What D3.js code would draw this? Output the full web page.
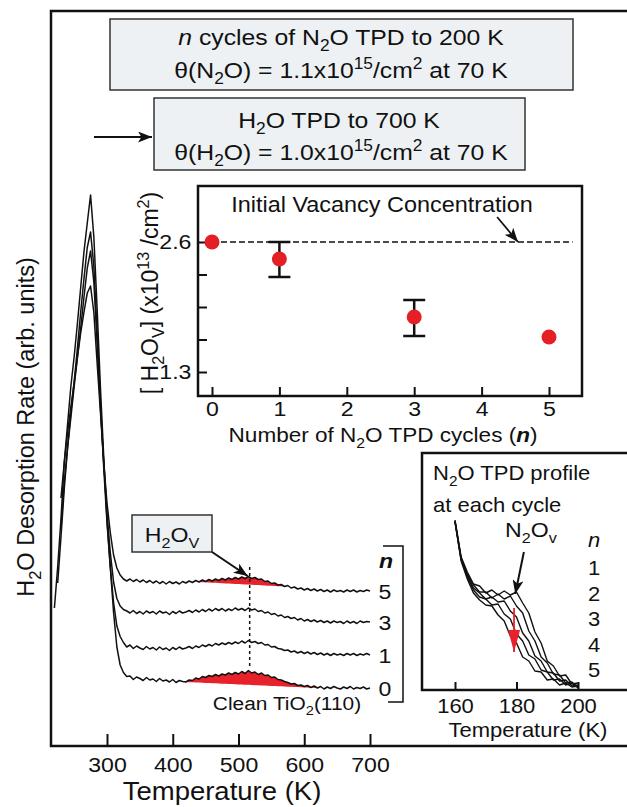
<!DOCTYPE html>
<html>
<head>
<meta charset="utf-8">
<script src="https://cdn.jsdelivr.net/npm/d3@7/dist/d3.min.js"></script>
<style>
  body { margin: 0; background: #fff; }
  text { font-family: "Liberation Sans", Arial, Helvetica, sans-serif; fill: #111; }
</style>
</head>
<body>
<svg id="chart" width="627" height="807"></svg>
<script>
// ---- main panel: H2O TPD traces after n cycles of N2O TPD ----
const tempK = d3.range(220, 701, 5); // sampling grid of the traces (K)

// desorption rate (arb. units), traces already stacked as in the figure
const rateN0 = [
  16.0, 24.2, 33.8, 45.1, 52.7, 60.3, 66.2, 72.9, 80.1, 87.3,
  93.0, 98.6, 90.2, 75.8, 60.1, 46.3, 33.7, 24.2, 15.1, 8.2,
  4.6, 3.1, 2.3, 2.4, 1.7, 2.2, 1.9, 1.5, 2.1, 1.6,
  1.8, 1.3, 1.9, 1.4, 1.6, 1.2, 1.7, 1.1, 1.5, 1.3,
  1.2, 1.6, 1.5, 2.0, 1.8, 2.3, 2.1, 2.5, 2.3, 2.7,
  2.4, 2.8, 2.6, 3.0, 2.7, 3.1, 2.8, 3.3, 2.9, 3.5,
  3.0, 3.2, 2.7, 3.0, 2.5, 2.6, 2.1, 2.2, 1.7, 1.6,
  1.3, 1.1, 0.8, 0.9, 0.5, 0.6, 0.3, 0.5, 0.1, 0.4,
  0.0, 0.3, -0.2, 0.2, -0.1, 0.3, 0.0, -0.2, 0.2, -0.1,
  0.3, -0.2, 0.1, -0.1, 0.2, -0.2, 0.0];
const rateN1 = [
  null, 21.0, 30.2, 39.8, 47.9, 55.1, 61.2, 68.0, 75.2, 81.9,
  88.1, 91.2, 84.3, 71.0, 57.2, 44.1, 33.0, 24.2, 17.1, 12.4,
  10.3, 9.1, 8.2, 8.6, 7.9, 8.4, 8.0, 7.7, 8.3, 7.8,
  8.1, 7.6, 8.2, 7.7, 8.0, 7.5, 8.1, 7.7, 8.2, 7.8,
  8.0, 8.3, 7.9, 8.4, 8.1, 8.6, 8.3, 8.7, 8.4, 8.9,
  8.6, 9.0, 8.7, 9.1, 8.8, 9.2, 8.9, 9.4, 9.0, 9.5,
  9.1, 9.3, 8.9, 9.1, 8.6, 8.7, 8.2, 8.3, 7.9, 7.8,
  7.5, 7.6, 7.2, 7.4, 7.0, 7.3, 6.9, 7.2, 6.8, 7.1,
  6.7, 7.0, 6.6, 6.9, 6.5, 6.9, 6.6, 6.8, 6.5, 6.9,
  6.6, 6.9, 6.5, 6.8, 6.6, 6.9, 6.6];
const rateN3 = [
  null, null, 32.0, 41.2, 48.1, 54.0, 60.2, 66.1, 72.0, 78.2,
  84.0, 87.4, 81.2, 69.0, 56.1, 45.2, 35.0, 27.1, 21.2, 17.9,
  16.4, 15.7, 15.4, 15.0, 15.5, 14.9, 15.3, 14.8, 15.4, 15.0,
  15.3, 14.8, 15.4, 15.0, 15.2, 14.7, 15.3, 14.9, 15.4, 15.0,
  15.2, 15.5, 15.1, 15.6, 15.2, 15.7, 15.3, 15.8, 15.4, 15.9,
  15.5, 15.9, 15.4, 15.8, 15.5, 16.0, 15.6, 15.9, 15.5, 16.0,
  15.6, 15.8, 15.3, 15.5, 15.0, 15.2, 14.7, 14.9, 14.4, 14.6,
  14.1, 14.3, 13.9, 14.1, 13.6, 13.9, 13.4, 13.7, 13.3, 13.6,
  13.2, 13.5, 13.1, 13.4, 13.0, 13.4, 13.1, 13.3, 12.9, 13.4,
  13.0, 13.3, 12.9, 13.4, 13.1, 13.3, 13.2];
const rateN5 = [
  null, null, 38.0, 45.1, 51.0, 56.2, 61.0, 66.1, 71.0, 75.2,
  79.0, 80.4, 75.1, 65.0, 55.2, 45.1, 37.0, 31.1, 26.6, 24.0,
  22.6, 21.8, 21.4, 21.8, 21.3, 21.7, 21.2, 21.6, 21.1, 21.5,
  21.0, 21.4, 20.9, 21.3, 20.8, 21.3, 20.9, 21.2, 20.8, 21.3,
  21.0, 21.4, 21.1, 21.5, 21.2, 21.6, 21.3, 21.7, 21.4, 21.8,
  21.5, 21.9, 21.6, 22.0, 21.7, 22.1, 21.8, 22.2, 21.9, 22.3,
  21.9, 22.1, 21.7, 21.8, 21.3, 21.4, 20.9, 21.0, 20.6, 20.7,
  20.3, 20.5, 20.0, 20.2, 19.8, 20.0, 19.6, 19.9, 19.5, 19.8,
  19.4, 19.7, 19.3, 19.6, 19.2, 19.6, 19.3, 19.5, 19.2, 19.6,
  19.3, 19.6, 19.2, 19.5, 19.3, 19.6, 19.4];
const traceCycles = [0, 1, 3, 5];
const mainTicks = [300, 400, 500, 600, 700];

// red shaded H2O_V feature (K)
const shadeCycle = [0, 5];
const shadeFrom = [420, 440];
const shadeTo = [620, 570];
const vacancyPeakT = 517;

// ---- inset 1: [H2O_V] vs number of N2O TPD cycles ----
const cycleN = [0, 1, 3, 5];
const vacancyConc = [2.6, 2.43, 1.85, 1.65];   // x10^13 /cm^2
const errLow = [null, 2.25, 1.66, null];
const errHigh = [null, 2.6, 2.02, null];
const initialConc = 2.6;
const cycleTicks = [0, 1, 2, 3, 4, 5];
const concTicks = [1.3, 1.625, 1.95, 2.275, 2.6];
const concLabels = [1.3, 2.6];

// ---- inset 2: N2O TPD profile at each cycle ----
const profileT = d3.range(160, 201, 2);
const n2oN1 = [17.0, 13.3, 11.8, 10.6, 10.4, 9.7, 10.0, 9.5, 9.9, 9.5, 9.8, 8.7, 7.7, 5.8, 4.7, 2.9, 2.4, 1.4, 1.5, 0.6, 0.7];
const n2oN2 = [16.9, 13.2, 11.6, 10.5, 9.8, 9.8, 9.2, 9.6, 9.1, 9.4, 8.4, 7.7, 5.9, 4.9, 3.3, 2.7, 1.6, 1.5, 0.7, 0.8, 0.3];
const n2oN3 = [16.9, 13.1, 11.5, 10.2, 9.7, 9.1, 9.3, 8.8, 8.9, 7.9, 7.3, 5.7, 4.9, 3.4, 2.9, 1.8, 1.7, 0.9, 1.0, 0.4, 0.5];
const n2oN4 = [16.8, 13.0, 11.3, 10.0, 9.3, 9.1, 8.5, 8.6, 7.6, 7.1, 5.6, 4.9, 3.5, 3.1, 2.0, 1.8, 1.0, 1.1, 0.5, 0.7, 0.2];
const n2oN5 = [16.8, 12.9, 11.1, 9.7, 9.0, 8.5, 8.4, 7.5, 6.9, 5.4, 4.7, 3.3, 2.9, 1.9, 1.8, 1.0, 1.1, 0.5, 0.7, 0.3, 0.4];
const profileCycles = [1, 2, 3, 4, 5];
const profileTicks = [160, 180, 200];

const SX = 1.1; // the original lettering is a bit wider than Liberation Sans
const svg = d3.select('#chart');
const defs = svg.append('defs');

function marker(id, color, w, h, notch) {
  defs.append('marker')
    .attr('id', id)
    .attr('viewBox', `0 0 ${w} ${h}`)
    .attr('refX', w).attr('refY', h / 2)
    .attr('markerWidth', w).attr('markerHeight', h)
    .attr('markerUnits', 'userSpaceOnUse')
    .attr('orient', 'auto')
    .append('path')
    .attr('d', `M0,0 L${w},${h / 2} L0,${h} L${w * notch},${h / 2} Z`)
    .attr('fill', color);
}
marker('head', '#111', 14, 11, 0.25);
marker('headRed', '#e8222a', 22, 12, 0);

// text with sub/superscripts, drawn slightly stretched
function label(parent, x, y, parts, size, anchor = 'middle', rotate = 0) {
  const tr = rotate ? `translate(${x},${y}) rotate(${rotate})` : `translate(${x},${y}) scale(${SX},1)`;
  const t = parent.append('g').attr('transform', tr)
    .append('text').attr('text-anchor', anchor).style('font-size', size + 'px');
  let shift = 0;
  parts.forEach(p => {
    const [str, kind] = Array.isArray(p) ? p : [p, ''];
    const ts = t.append('tspan').text(str);
    let target = 0;
    if (kind === 'sub' || kind === 'sup') {
      ts.style('font-size', (size * 0.7) + 'px');
      target = kind === 'sub' ? size * 0.28 : -size * 0.4;
    }
    if (kind === 'i') ts.style('font-style', 'italic');
    if (kind === 'bi') ts.style('font-style', 'italic').style('font-weight', 'bold');
    if (target !== shift) ts.attr('dy', target - shift);
    shift = target;
  });
  return t;
}

function styleAxis(g, size) {
  g.select('.domain').remove();
  g.selectAll('.tick line').attr('stroke', '#111').attr('stroke-width', 2);
  g.selectAll('.tick text').style('font-size', size + 'px').attr('transform', `scale(${SX},1)`);
}

// ---- outer frame ----
svg.append('rect')
  .attr('x', 51).attr('y', 11).attr('width', 640).attr('height', 735)
  .attr('fill', 'none').attr('stroke', '#111').attr('stroke-width', 2.5);

// ---- top boxes ----
svg.append('rect').attr('x', 110).attr('y', 19).attr('width', 463).attr('height', 71)
  .attr('fill', '#eef1f4').attr('stroke', '#333').attr('stroke-width', 1.5);
label(svg, 341, 45, [['n', 'i'], ' cycles of N', ['2', 'sub'], 'O TPD to 200 K'], 22.5);
label(svg, 341, 78, ['\u03b8(N', ['2', 'sub'], 'O) = 1.1x10', ['15', 'sup'], '/cm', ['2', 'sup'], ' at 70 K'], 22.5);

svg.append('rect').attr('x', 154).attr('y', 98).attr('width', 371).attr('height', 72)
  .attr('fill', '#eef1f4').attr('stroke', '#333').attr('stroke-width', 1.5);
label(svg, 339, 128, ['H', ['2', 'sub'], 'O TPD to 700 K'], 22.5);
label(svg, 341, 160, ['\u03b8(H', ['2', 'sub'], 'O) = 1.0x10', ['15', 'sup'], '/cm', ['2', 'sup'], ' at 70 K'], 22.5);

svg.append('line').attr('x1', 94).attr('y1', 137).attr('x2', 152).attr('y2', 137)
  .attr('stroke', '#111').attr('stroke-width', 2).attr('marker-end', 'url(#head)');

// ---- main panel ----
const x = d3.scaleLinear().domain([300, 700]).range([107, 370]);
const y = d3.scaleLinear().domain([0, 100]).range([688, 188]);
const traces = [rateN0, rateN1, rateN3, rateN5];

const line = d3.line()
  .defined(d => d[1] != null)
  .x(d => x(d[0]))
  .y(d => y(d[1]));

// red H2O_V areas under the traces
shadeCycle.forEach((n, k) => {
  const vals = traces[traceCycles.indexOf(n)];
  const pts = tempK.map((t, i) => [t, vals[i]]).filter(d => d[0] >= shadeFrom[k] && d[0] <= shadeTo[k]);
  const a = pts[0], b = pts[pts.length - 1];
  const base = t => a[1] + (b[1] - a[1]) * (t - a[0]) / (b[0] - a[0]);
  svg.append('path')
    .datum(pts)
    .attr('fill', '#e8222a')
    .attr('d', d3.area()
      .x(d => x(d[0]))
      .y0(d => y(base(d[0])))
      .y1(d => y(Math.max(d[1], base(d[0])))));
});

traces.forEach(vals => {
  svg.append('path')
    .datum(tempK.map((t, i) => [t, vals[i]]))
    .attr('fill', 'none')
    .attr('stroke', '#111')
    .attr('stroke-width', 1.5)
    .attr('stroke-linejoin', 'round')
    .attr('d', line);
});

svg.append('line')
  .attr('x1', x(vacancyPeakT)).attr('x2', x(vacancyPeakT))
  .attr('y1', y(24.2)).attr('y2', y(4))
  .attr('stroke', '#111').attr('stroke-width', 1.5).attr('stroke-dasharray', '3,3');

const xAxis = svg.append('g')
  .attr('transform', 'translate(0,746)')
  .call(d3.axisBottom(x).tickValues(mainTicks).tickSizeInner(-12).tickSizeOuter(0).tickPadding(11));
styleAxis(xAxis, 21);

label(svg, 222, 800, ['Temperature (K)'], 25);
label(svg, 34, 427, ['H', ['2', 'sub'], 'O Desorption Rate  (arb. units)'], 23.5, 'middle', -90);

// n labels at the right end of each trace
label(svg, 386, 568, [['n', 'bi']], 21);
traces.forEach((vals, i) => {
  label(svg, 385, y(vals[vals.length - 1]) + 7.5, [String(traceCycles[i])], 21);
});
svg.append('path')
  .attr('d', 'M383,546 H403 V702 H388')
  .attr('fill', 'none').attr('stroke', '#111').attr('stroke-width', 1.5);

label(svg, 287, 710, ['Clean TiO', ['2', 'sub'], '(110)'], 19);

// H2O_V callout
svg.append('rect').attr('x', 132).attr('y', 515).attr('width', 80).attr('height', 37)
  .attr('fill', '#eef1f4').attr('stroke', '#333').attr('stroke-width', 1.5);
label(svg, 172, 542, ['H', ['2', 'sub'], 'O', ['V', 'sub']], 21);
svg.append('line')
  .attr('x1', 212).attr('y1', 552)
  .attr('x2', x(514)).attr('y2', y(22.4))
  .attr('stroke', '#111').attr('stroke-width', 2).attr('marker-end', 'url(#head)');

// ---- inset 1 ----
const xi = d3.scaleLinear().domain([0, 5]).range([212, 549]);
const yi = d3.scaleLinear().domain([1.3, 2.6]).range([372, 242]);

svg.append('rect').attr('x', 198).attr('y', 186).attr('width', 384).attr('height', 210)
  .attr('fill', '#fff').attr('stroke', '#111').attr('stroke-width', 2.5);

const xiAxis = svg.append('g')
  .attr('transform', 'translate(0,396)')
  .call(d3.axisBottom(xi).tickValues(cycleTicks).tickFormat(d3.format('d'))
    .tickSizeInner(-9).tickSizeOuter(0).tickPadding(5));
styleAxis(xiAxis, 21);

const yiAxis = svg.append('g')
  .attr('transform', 'translate(198,0)')
  .call(d3.axisLeft(yi).tickValues(concTicks).tickSizeInner(-9).tickSizeOuter(0).tickPadding(6)
    .tickFormat(d => concLabels.includes(d) ? d3.format('.1f')(d) : ''));
styleAxis(yiAxis, 21);

svg.append('line')
  .attr('x1', xi(0)).attr('x2', xi(5.35))
  .attr('y1', yi(initialConc)).attr('y2', yi(initialConc))
  .attr('stroke', '#111').attr('stroke-width', 1.5).attr('stroke-dasharray', '6,3');

cycleN.forEach((n, i) => {
  if (errLow[i] == null) return;
  const g = svg.append('g').attr('stroke', '#111').attr('stroke-width', 2.5);
  g.append('line').attr('x1', xi(n)).attr('x2', xi(n)).attr('y1', yi(errLow[i])).attr('y2', yi(errHigh[i]));
  g.append('line').attr('x1', xi(n) - 11).attr('x2', xi(n) + 11).attr('y1', yi(errLow[i])).attr('y2', yi(errLow[i]));
  g.append('line').attr('x1', xi(n) - 11).attr('x2', xi(n) + 11).attr('y1', yi(errHigh[i])).attr('y2', yi(errHigh[i]));
});

svg.selectAll('circle.conc')
  .data(cycleN)
  .enter()
  .append('circle')
  .attr('class', 'conc')
  .attr('cx', d => xi(d))
  .attr('cy', (d, i) => yi(vacancyConc[i]))
  .attr('r', 7.5)
  .attr('fill', '#e41f26');

label(svg, 382, 212, ['Initial Vacancy Concentration'], 21.3);
svg.append('line')
  .attr('x1', xi(4.23)).attr('y1', yi(2.85))
  .attr('x2', xi(4.54)).attr('y2', yi(2.6))
  .attr('stroke', '#111').attr('stroke-width', 1.8).attr('marker-end', 'url(#head)');

label(svg, 383, 442, ['Number of N', ['2', 'sub'], 'O TPD cycles (', ['n', 'bi'], ')'], 20.5);
label(svg, 158, 293, ['[ H', ['2', 'sub'], 'O', ['V', 'sub'], '] (x10', ['13', 'sup'], ' /cm', ['2', 'sup'], ')'], 23, 'middle', -90);

// ---- inset 2 ----
const xp = d3.scaleLinear().domain([160, 200]).range([455, 578]);
const yp = d3.scaleLinear().domain([0, 24]).range([690, 450]);

svg.append('rect').attr('x', 422).attr('y', 453).attr('width', 260).attr('height', 237)
  .attr('fill', '#fff').attr('stroke', '#111').attr('stroke-width', 2.5);

const profileLine = d3.line().x(d => xp(d[0])).y(d => yp(d[1]));
[n2oN1, n2oN2, n2oN3, n2oN4, n2oN5].forEach(vals => {
  svg.append('path')
    .datum(profileT.map((t, i) => [t, vals[i]]))
    .attr('fill', 'none')
    .attr('stroke', '#111')
    .attr('stroke-width', 1.4)
    .attr('stroke-linejoin', 'round')
    .attr('d', profileLine);
});

svg.append('line')
  .attr('x1', xp(179.2)).attr('x2', xp(179.2))
  .attr('y1', yp(8.2)).attr('y2', yp(3.8))
  .attr('stroke', '#e8222a').attr('stroke-width', 1.8).attr('marker-end', 'url(#headRed)');
svg.append('line')
  .attr('x1', xp(182.4)).attr('y1', yp(13.8))
  .attr('x2', xp(179.6)).attr('y2', yp(9.6))
  .attr('stroke', '#111').attr('stroke-width', 2).attr('marker-end', 'url(#head)');

const xpAxis = svg.append('g')
  .attr('transform', 'translate(0,690)')
  .call(d3.axisBottom(xp).tickValues(profileTicks).tickSizeInner(-8).tickSizeOuter(0).tickPadding(9));
styleAxis(xpAxis, 20);

label(svg, 528, 737, ['Temperature (K)'], 20);
label(svg, 433, 480, ['N', ['2', 'sub'], 'O TPD profile'], 20, 'start');
label(svg, 433, 512, ['at each cycle'], 20, 'start');
label(svg, 505, 537, ['N', ['2', 'sub'], 'O', ['v', 'sub']], 21, 'start');

label(svg, 594, 547, [['n', 'i']], 20);
profileCycles.forEach((n, i) => {
  label(svg, 594, 575 + i * 25.5, [String(n)], 20);
});
</script>
</body>
</html>
